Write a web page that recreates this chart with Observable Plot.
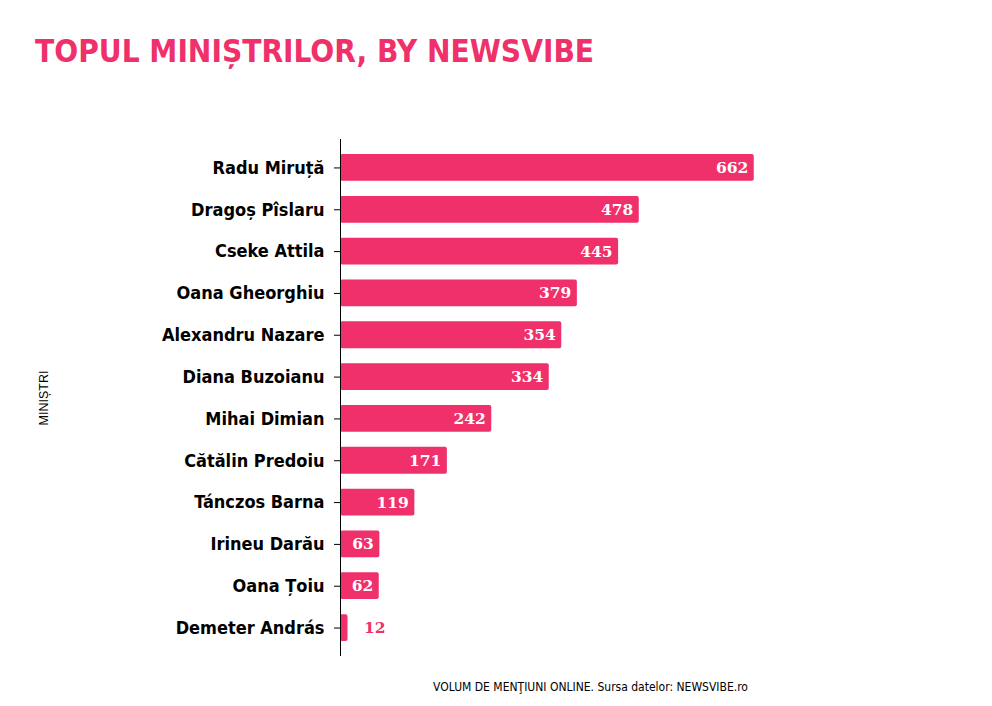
<!DOCTYPE html>
<html>
<head>
<meta charset="utf-8">
<script src="https://cdn.jsdelivr.net/npm/d3@7"></script>
<script src="https://cdn.jsdelivr.net/npm/@observablehq/plot@0.6"></script>
<style>
  body { margin: 0; background: #fff; }
  #wrap { width: 992px; height: 706px; position: relative; overflow: hidden; }
  #title { height: 110px; box-sizing: border-box; padding: 36px 0 0 35px;
    font-family: "DejaVu Sans Condensed", "DejaVu Sans", sans-serif; font-weight: bold;
    font-size: 31.3px; color: #f0306a; line-height: 1; }
</style>
</head>
<body>
<div id="wrap">
  <div id="title">TOPUL MINIȘTRILOR, BY NEWSVIBE</div>
  <div id="chart"></div>
</div>
<script>
const ministers = ["Radu Miruță", "Dragoș Pîslaru", "Cseke Attila", "Oana Gheorghiu", "Alexandru Nazare",
  "Diana Buzoianu", "Mihai Dimian", "Cătălin Predoiu", "Tánczos Barna", "Irineu Darău", "Oana Țoiu", "Demeter András"];
const mentions = [662, 478, 445, 379, 354, 334, 242, 171, 119, 63, 62, 12];
const yLabel = "MINIȘTRI";
const footer = "VOLUM DE MENŢIUNI ONLINE. Sursa datelor: NEWSVIBE.ro";
const pink = "#f0306a";

const data = ministers.map((name, i) => ({ name, value: mentions[i] }));
const inside = data.filter(d => d.value >= 50);
const outside = data.filter(d => d.value < 50);

const chart = Plot.plot({
  width: 992,
  height: 596,
  marginTop: 29,
  marginBottom: 50,
  marginLeft: 340,
  marginRight: 152,
  style: { fontFamily: "'DejaVu Sans', sans-serif", background: "#fff" },
  x: { domain: [0, 800], axis: null },
  y: { domain: ministers, padding: 0.36, round: false },
  marks: [
    Plot.barX(data, { x: "value", y: "name", fill: pink, rx: 2 }),
    Plot.ruleX([0], { stroke: "#000", strokeWidth: 1 }),
    Plot.axisY({ label: null, tickSize: 6, tickPadding: 10, fontSize: 18, fontWeight: "bold",
      fontFamily: "'DejaVu Sans Condensed', 'DejaVu Sans', sans-serif", fill: "#000" }),
    Plot.axisY({ ticks: [], label: yLabel, labelAnchor: "center", labelOffset: 301,
      fontSize: 12.5, fontFamily: "'Liberation Sans', Arial, sans-serif", fontWeight: "normal" }),
    Plot.axisX({ ticks: [], label: footer, labelAnchor: "center", labelOffset: 34, labelArrow: "none",
      fontSize: 12, fontFamily: "'DejaVu Sans Condensed', 'DejaVu Sans', sans-serif" }),
    Plot.text(inside, { x: "value", y: "name", text: d => String(d.value), textAnchor: "end", dx: -6,
      fill: "#fff", fontSize: 15.5, fontWeight: "bold", fontFamily: "'DejaVu Serif', serif" }),
    Plot.text(outside, { x: "value", y: "name", text: d => String(d.value), textAnchor: "start", dx: 16,
      fill: pink, fontSize: 15.5, fontWeight: "bold", fontFamily: "'DejaVu Serif', serif" })
  ]
});
document.getElementById("chart").appendChild(chart);
</script>
</body>
</html>
